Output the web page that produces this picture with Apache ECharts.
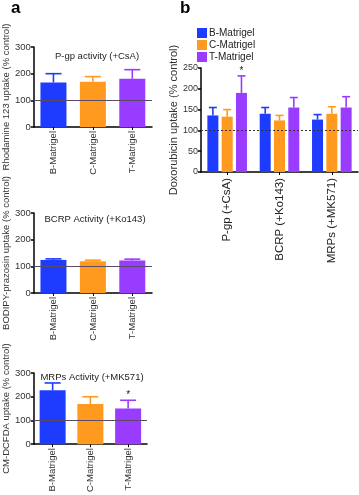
<!DOCTYPE html>
<html>
<head>
<meta charset="utf-8">
<script src="https://cdn.jsdelivr.net/npm/echarts@6/dist/echarts.min.js"></script>
<style>
  html, body { margin: 0; padding: 0; background: #fff; }
  #chart { width: 359px; height: 495px; }
</style>
</head>
<body>
<div id="chart"></div>
<script>
// panel a: three single-series bar charts
const matrigels = ['B-Matrigel', 'C-Matrigel', 'T-Matrigel'];
const pgpValues = [167, 170, 181];
const pgpErr = [33, 19, 34];
const bcrpValues = [124, 119, 122];
const bcrpErr = [4, 4, 5];
const mrpValues = [227, 169, 150];
const mrpErr = [31, 31, 35];
const mrpSig = ['', '', '*'];

// panel b: grouped bars per transporter
const transporters = ['P-gp (+CsA)', 'BCRP (+Ko143)', 'MRPs (+MK571)'];
const bValues = [136, 140, 126];
const bErr = [19, 15, 12];
const cValues = [133, 124, 140];
const cErr = [17, 12, 17];
const tValues = [190, 155, 155];
const tErr = [41, 24, 26];
const tSig = ['*', '', ''];

const aTicks = [0, 100, 200, 300];
const bTicks = [0, 50, 100, 150, 200, 250];

const colors = ['#1e3cff', '#ff9a1e', '#9a3cff'];
const font = "'Liberation Sans', Arial, sans-serif";

const myChart = echarts.init(document.getElementById('chart'));

function yAxisA(idx, name, shift) {
  return {
    gridIndex: idx, type: 'value', min: aTicks[0], max: aTicks[aTicks.length - 1], interval: 100,
    name: name, nameLocation: 'middle', nameGap: 19,
    nameTextStyle: { fontSize: 9.5, color: '#333', fontFamily: font, padding: [0, shift || 0, 0, 0] },
    axisLine: { show: true, lineStyle: { color: '#000', width: 1.5 } },
    axisTick: { show: true, length: 3, lineStyle: { color: '#000', width: 1.5 } },
    axisLabel: { fontSize: 9.5, color: '#333', margin: 3, fontFamily: font },
    splitLine: { show: false }
  };
}
function xAxisA(idx) {
  return {
    gridIndex: idx, type: 'category', data: matrigels,
    axisLine: { lineStyle: { color: '#000', width: 1.5 } },
    axisTick: { show: true, alignWithLabel: true, length: 3, lineStyle: { color: '#000' } },
    axisLabel: { rotate: 90, fontSize: 9.5, color: '#333', margin: 4, fontFamily: font }
  };
}
function barA(idx, values) {
  return {
    type: 'bar', xAxisIndex: idx, yAxisIndex: idx, barWidth: 26,
    data: values.map((v, i) => ({ value: v, itemStyle: { color: colors[i] } })),
    markLine: {
      silent: true, symbol: 'none', label: { show: false },
      lineStyle: { color: '#5a4a66', width: 1, type: 'solid' },
      data: [{ yAxis: 100 }]
    }
  };
}
function errSeries(axisIdx, values, errs, sigs, colorFn, offset, capHalf) {
  return {
    type: 'custom', xAxisIndex: axisIdx, yAxisIndex: axisIdx, z: 1,
    data: values.map((v, i) => [i, v, errs[i], sigs ? sigs[i] : '']),
    renderItem: function (params, api) {
      const i = api.value(0);
      const top = api.coord([i, api.value(1)]);
      const tip = api.coord([i, api.value(1) + api.value(2)]);
      const x = top[0] + offset;
      const c = colorFn(i);
      const children = [
        { type: 'line', shape: { x1: x, y1: top[1], x2: x, y2: tip[1] }, style: { stroke: c, lineWidth: 1.6 } },
        { type: 'line', shape: { x1: x - capHalf, y1: tip[1], x2: x + capHalf, y2: tip[1] }, style: { stroke: c, lineWidth: 1.6 } }
      ];
      const s = sigs ? sigs[i] : '';
      if (s) {
        children.push({
          type: 'text',
          style: { text: s, x: x, y: tip[1], align: 'center', verticalAlign: 'bottom', fontSize: 10, fill: '#222', fontFamily: font }
        });
      }
      return { type: 'group', children: children };
    }
  };
}

const titleStyle = { fontSize: 9.5, fontWeight: 'normal', color: '#222', fontFamily: font };

const option = {
  animation: false,
  textStyle: { fontFamily: font },
  title: [
    { text: 'P-gp activity (+CsA)', left: 92, top: 46, textAlign: 'center', textStyle: titleStyle },
    { text: 'BCRP Activity (+Ko143)', left: 90, top: 209, textAlign: 'center', textStyle: titleStyle },
    { text: 'MRPs Activity (+MK571)', left: 87, top: 367, textAlign: 'center', textStyle: titleStyle }
  ],
  graphic: [
    { type: 'text', left: 11, top: 0, style: { text: 'a', fontSize: 17, fontWeight: 'bold', fill: '#000', fontFamily: font } },
    { type: 'text', left: 180, top: 0, style: { text: 'b', fontSize: 17, fontWeight: 'bold', fill: '#000', fontFamily: font } }
  ],
  legend: {
    orient: 'vertical', left: 192, top: 23, itemWidth: 10, itemHeight: 10, itemGap: 2,
    icon: 'rect',
    textStyle: { fontSize: 10, color: '#222', padding: [0, 0, 0, -3] },
    data: ['B-Matrigel', 'C-Matrigel', 'T-Matrigel']
  },
  grid: [
    { left: 30, top: 47, width: 122, height: 80 },
    { left: 30, top: 213, width: 122, height: 80 },
    { left: 30, top: 373, width: 117, height: 78 },
    { left: 201, top: 68, width: 157, height: 104 }
  ],
  xAxis: [
    xAxisA(0), xAxisA(1), xAxisA(2),
    {
      gridIndex: 3, type: 'category', data: transporters,
      axisLine: { lineStyle: { color: '#000', width: 1.5 } },
      axisTick: { show: true, alignWithLabel: true, length: 3, lineStyle: { color: '#000' } },
      axisLabel: { rotate: 90, fontSize: 11.5, color: '#222', margin: 6, fontFamily: font }
    }
  ],
  yAxis: [
    yAxisA(0, 'Rhodamine 123 uptake (% control)', 20),
    yAxisA(1, 'BODIPY-prazosin uptake (% control)'),
    yAxisA(2, 'CM-DCFDA uptake (% control)'),
    {
      gridIndex: 3, type: 'value', min: bTicks[0], max: bTicks[bTicks.length - 1], interval: 50,
      name: 'Doxorubicin uptake (% control)', nameLocation: 'middle', nameGap: 12,
      nameTextStyle: { fontSize: 11, color: '#333', fontFamily: font },
      axisLine: { show: true, lineStyle: { color: '#000', width: 1.5 } },
      axisTick: { show: true, length: 3, lineStyle: { color: '#000', width: 1.5 } },
      axisLabel: { fontSize: 9, color: '#333', margin: 3, fontFamily: font },
      splitLine: { show: false }
    }
  ],
  series: [
    barA(0, pgpValues),
    errSeries(0, pgpValues, pgpErr, null, i => colors[i], 0, 8),
    barA(1, bcrpValues),
    errSeries(1, bcrpValues, bcrpErr, null, i => colors[i], 0, 8),
    barA(2, mrpValues),
    errSeries(2, mrpValues, mrpErr, mrpSig, i => colors[i], 0, 8),
    {
      name: 'B-Matrigel', type: 'bar', xAxisIndex: 3, yAxisIndex: 3, barWidth: 11, barGap: '30%',
      itemStyle: { color: colors[0] }, data: bValues,
      markLine: {
        silent: true, symbol: 'none', label: { show: false },
        lineStyle: { color: '#333', width: 1, type: [2, 2] },
        data: [{ yAxis: 100 }]
      }
    },
    { name: 'C-Matrigel', type: 'bar', xAxisIndex: 3, yAxisIndex: 3, barWidth: 11, barGap: '30%', itemStyle: { color: colors[1] }, data: cValues },
    { name: 'T-Matrigel', type: 'bar', xAxisIndex: 3, yAxisIndex: 3, barWidth: 11, barGap: '30%', itemStyle: { color: colors[2] }, data: tValues },
    errSeries(3, bValues, bErr, null, () => colors[0], -14.3, 4),
    errSeries(3, cValues, cErr, null, () => colors[1], 0, 4),
    errSeries(3, tValues, tErr, tSig, () => colors[2], 14.3, 4)
  ]
};

myChart.setOption(option);
</script>
</body>
</html>
